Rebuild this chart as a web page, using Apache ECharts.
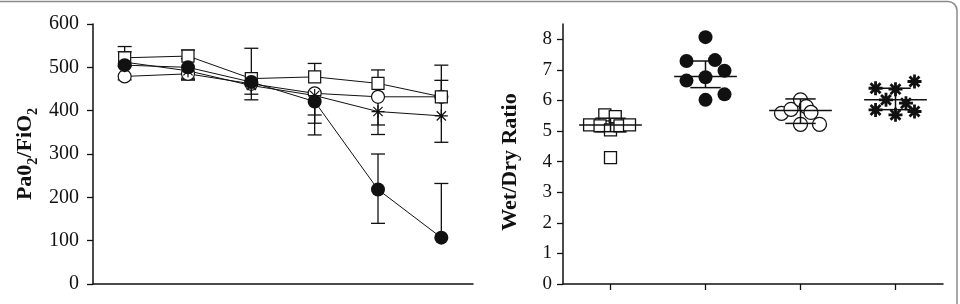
<!DOCTYPE html>
<html>
<head>
<meta charset="utf-8">
<script src="https://cdn.jsdelivr.net/npm/echarts@6/dist/echarts.min.js"></script>
<style>
  html, body { margin: 0; padding: 0; background: #fff; }
  #main { width: 960px; height: 304px; }
</style>
</head>
<body>
<div id="main"></div>
<script>
var chart = echarts.init(document.getElementById('main'));

// left panel: PaO2/FiO2 over time (mean, error up, error down)
var timePoints = ['T0', 'T1', 'T2', 'T3', 'T4', 'T5'];
var leftTicks = [0, 100, 200, 300, 400, 500, 600];

var sqMean = [522, 526, 474, 478, 463, 432];
var sqUp = [26, 14, 70, 31, 31, 73];
var sqDown = [0, 0, 0, 0, 0, 0];

var fcMean = [505, 500, 466, 421, 218, 107];
var fcUp = [0, 20, 0, 0, 82, 125];
var fcDown = [0, 29, 41, 77, 78, 0];

var ocMean = [479, 485, 462, 440, 432, 432];
var ocUp = [0, 0, 0, 0, 0, 0];
var ocDown = [8, 10, 0, 50, 65, 0];

var asMean = [512, 492, 458, 435, 398, 388];
var asUp = [24, 0, 0, 0, 0, 82];
var asDown = [10, 21, 20, 64, 53, 61];

// right panel: wet/dry ratio per group (value, x jitter)
var groups = [1, 2, 3, 4];
var rightTicks = [0, 1, 2, 3, 4, 5, 6, 7, 8];

var g1Vals = [5.20, 5.53, 5.47, 5.17, 5.04, 5.17, 5.20, 4.13];
var g1Jit = [-0.22, -0.06, 0.05, -0.11, 0, 0.10, 0.20, 0];
var g2Vals = [8.07, 7.29, 7.32, 6.97, 6.65, 6.76, 6.02, 6.20];
var g2Jit = [0, -0.20, 0.10, 0.20, -0.20, 0, 0, 0.20];
var g3Vals = [5.58, 5.71, 6.02, 5.80, 5.61, 5.22, 5.22];
var g3Jit = [-0.20, -0.10, 0, 0.06, 0.11, 0, 0.20];
var g4Vals = [6.40, 6.37, 6.62, 6.02, 5.91, 5.69, 5.53, 5.64];
var g4Jit = [-0.21, 0, 0.20, -0.10, 0.11, -0.21, 0, 0.20];

var groupMean = [5.2, 6.78, 5.67, 6.02];
var groupHi = [5.42, 7.29, 6.05, 6.40];
var groupLo = [4.98, 6.42, 5.25, 5.70];

var ink = '#111';
var asteriskPath = 'path://M0,-10L0,10M-10,0L10,0M-7.1,-7.1L7.1,7.1M-7.1,7.1L7.1,-7.1';

function errData(mean, up, down) {
    return mean.map(function (m, i) { return [i, m, up[i], down[i]]; });
}

function renderErr(params, api) {
    var x = api.value(0), m = api.value(1), up = api.value(2), dn = api.value(3);
    var top = api.coord([x, m + up]);
    var bot = api.coord([x, m - dn]);
    var st = { stroke: ink, lineWidth: 1.3 };
    var kids = [{ type: 'line', shape: { x1: top[0], y1: top[1], x2: bot[0], y2: bot[1] }, style: st }];
    if (up > 0) kids.push({ type: 'line', shape: { x1: top[0] - 7, y1: top[1], x2: top[0] + 7, y2: top[1] }, style: st });
    if (dn > 0) kids.push({ type: 'line', shape: { x1: bot[0] - 7, y1: bot[1], x2: bot[0] + 7, y2: bot[1] }, style: st });
    return { type: 'group', children: kids };
}

function renderMean(params, api) {
    var g = api.value(0), m = api.value(1), hi = api.value(2), lo = api.value(3);
    var a = api.coord([g - 0.33, m]), b = api.coord([g + 0.33, m]);
    var h1 = api.coord([g - 0.16, hi]), h2 = api.coord([g + 0.16, hi]);
    var l1 = api.coord([g - 0.16, lo]), l2 = api.coord([g + 0.16, lo]);
    var c = api.coord([g, 0])[0];
    var st = { stroke: ink, lineWidth: 1.5 };
    return {
        type: 'group',
        children: [
            { type: 'line', shape: { x1: a[0], y1: a[1], x2: b[0], y2: b[1] }, style: st },
            { type: 'line', shape: { x1: c, y1: h1[1], x2: c, y2: l1[1] }, style: st },
            { type: 'line', shape: { x1: h1[0], y1: h1[1], x2: h2[0], y2: h2[1] }, style: st },
            { type: 'line', shape: { x1: l1[0], y1: l1[1], x2: l2[0], y2: l2[1] }, style: st }
        ]
    };
}

function dots(vals, jit, g) {
    return vals.map(function (v, i) { return [g + jit[i], v]; });
}

function lineSeries(data, symbol, size, fill, bw) {
    return {
        type: 'line',
        xAxisIndex: 0, yAxisIndex: 0,
        data: data,
        symbol: symbol,
        symbolSize: size,
        symbolKeepAspect: true,
        showAllSymbol: true,
        lineStyle: { color: ink, width: 1 },
        itemStyle: { color: fill, borderColor: ink, borderWidth: bw },
        z: 3,
        animation: false
    };
}

function dotSeries(data, symbol, size, fill, bw) {
    return {
        type: 'scatter',
        xAxisIndex: 1, yAxisIndex: 1,
        data: data,
        symbol: symbol,
        symbolSize: size,
        symbolKeepAspect: true,
        itemStyle: { color: fill, borderColor: ink, borderWidth: bw, opacity: 1 },
        z: 3,
        animation: false
    };
}

var serif = 'Liberation Serif';

var option = {
    backgroundColor: '#fff',
    textStyle: { fontFamily: serif },
    graphic: [{
        type: 'rect',
        shape: { x: -10, y: 1.5, width: 967, height: 400, r: 9 },
        style: { fill: 'none', stroke: '#8a8a8a', lineWidth: 1.5 },
        silent: true
    }],
    grid: [
        { left: 93, top: 24, width: 380, height: 260 },
        { left: 563, top: 24, width: 380, height: 260 }
    ],
    xAxis: [
        {
            gridIndex: 0,
            type: 'category',
            data: timePoints,
            boundaryGap: true,
            axisLine: { lineStyle: { color: ink, width: 1.5 } },
            axisTick: { alignWithLabel: true, length: 6, lineStyle: { color: ink, width: 1.3 } },
            axisLabel: { show: false },
            splitLine: { show: false }
        },
        {
            gridIndex: 1,
            type: 'value',
            min: 0.5,
            max: 4.5,
            axisLine: { lineStyle: { color: ink, width: 1.5 } },
            axisTick: { customValues: groups, length: 6, lineStyle: { color: ink, width: 1.3 } },
            axisLabel: { show: false },
            splitLine: { show: false }
        }
    ],
    yAxis: [
        {
            gridIndex: 0,
            type: 'value',
            min: 0,
            max: 600,
            interval: 100,
            axisLine: { show: true, lineStyle: { color: ink, width: 1.5 } },
            axisTick: { show: true, customValues: leftTicks, length: 6, lineStyle: { color: ink, width: 1.3 } },
            axisLabel: { customValues: leftTicks, margin: 14, color: ink, fontSize: 20, fontFamily: serif },
            splitLine: { show: false },
            name: 'Pa0{s|2}/FiO{s|2}',
            nameLocation: 'middle',
            nameGap: 57,
            nameTextStyle: {
                color: ink, fontSize: 22, fontWeight: 'bold', fontFamily: serif,
                rich: { s: { fontSize: 14, fontWeight: 'bold', fontFamily: serif, verticalAlign: 'bottom', padding: [0, 0, -4, 0] } }
            }
        },
        {
            gridIndex: 1,
            type: 'value',
            min: 0,
            max: 8.5,
            axisLine: { show: true, lineStyle: { color: ink, width: 1.5 } },
            axisTick: { show: true, customValues: rightTicks, length: 6, lineStyle: { color: ink, width: 1.3 } },
            axisLabel: { customValues: rightTicks, margin: 11, color: ink, fontSize: 19, fontFamily: serif },
            splitLine: { show: false },
            name: 'Wet/Dry Ratio',
            nameLocation: 'middle',
            nameGap: 42,
            nameTextStyle: { color: ink, fontSize: 22, fontWeight: 'bold', fontFamily: serif, padding: [0, 16, 0, 0] }
        }
    ],
    series: [
        { type: 'custom', xAxisIndex: 0, yAxisIndex: 0, renderItem: renderErr, data: errData(sqMean, sqUp, sqDown), z: 2, animation: false },
        { type: 'custom', xAxisIndex: 0, yAxisIndex: 0, renderItem: renderErr, data: errData(fcMean, fcUp, fcDown), z: 2, animation: false },
        { type: 'custom', xAxisIndex: 0, yAxisIndex: 0, renderItem: renderErr, data: errData(ocMean, ocUp, ocDown), z: 2, animation: false },
        { type: 'custom', xAxisIndex: 0, yAxisIndex: 0, renderItem: renderErr, data: errData(asMean, asUp, asDown), z: 2, animation: false },
        lineSeries(ocMean, 'circle', 13, '#fff', 1.2),
        lineSeries(asMean, asteriskPath, 13, ink, 1.2),
        lineSeries(sqMean, 'rect', 12, '#fff', 1.2),
        lineSeries(fcMean, 'circle', 14, ink, 0),

        dotSeries(dots(g1Vals, g1Jit, 1), 'rect', 12, '#fff', 1.3),
        dotSeries(dots(g2Vals, g2Jit, 2), 'circle', 14, ink, 0),
        dotSeries(dots(g3Vals, g3Jit, 3), 'circle', 14, '#fff', 1.3),
        dotSeries(dots(g4Vals, g4Jit, 4), asteriskPath, 14, ink, 2.8),
        {
            type: 'custom', xAxisIndex: 1, yAxisIndex: 1, renderItem: renderMean, z: 4, animation: false,
            data: groups.map(function (g, i) { return [g, groupMean[i], groupHi[i], groupLo[i]]; })
        }
    ]
};

chart.setOption(option);
</script>
</body>
</html>
